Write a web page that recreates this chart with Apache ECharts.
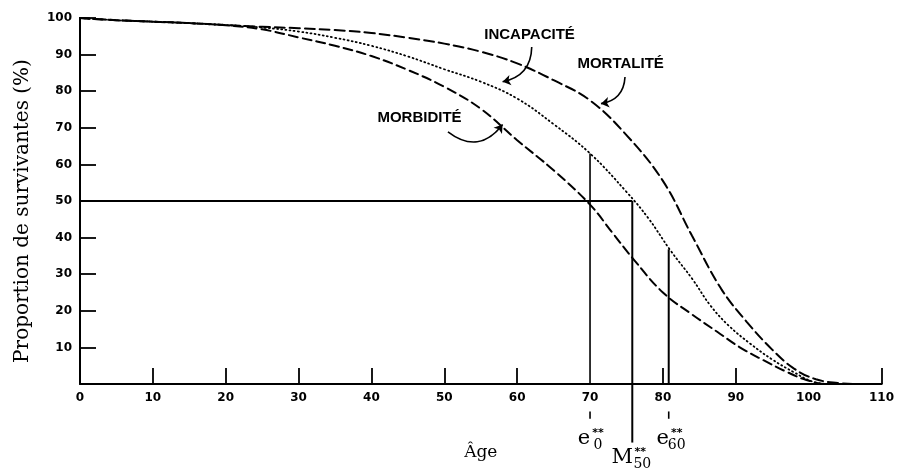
<!DOCTYPE html>
<html>
<head>
<meta charset="utf-8">
<script src="https://cdn.jsdelivr.net/npm/echarts@6/dist/echarts.min.js"></script>
<style>
  html, body { margin: 0; padding: 0; background: #fff; }
  #chart { width: 897px; height: 471px; }
</style>
</head>
<body>
<div id="chart"></div>
<script>
// survival curves (age in years, % still surviving)
var mortAges = [0, 5, 10, 15, 20, 25, 30, 35, 40, 45, 50, 55, 60, 65, 70, 75, 80, 84, 88, 91.5, 95, 98, 101, 104, 107, 110];
var mortValues = [100, 99.4, 99, 98.6, 98.1, 97.6, 97.2, 96.7, 95.9, 94.6, 93, 90.8, 87.6, 83, 77.5, 68, 55.5, 40.5, 26, 17, 9.4, 4.2, 1.3, 0.3, 0, 0];

var incapAges = [0, 5, 10, 15, 20, 25, 30, 35, 40, 45, 50, 55, 60, 65, 70, 75, 78, 81, 84, 86.5, 89, 92, 95, 98, 100.5, 103, 110];
var incapValues = [100, 99.4, 99, 98.6, 98.1, 97.4, 96.3, 94.6, 92.4, 89.5, 86, 82.6, 78, 71, 63, 52.5, 45.3, 36.6, 28.8, 21.5, 16, 11, 6.7, 3.2, 0.7, 0, 0];

var morbAges = [0, 5, 10, 15, 20, 25, 30, 35, 40, 45, 50, 55, 60, 65, 70, 73, 76, 80, 84, 87.5, 90.5, 93.7, 97, 99.7, 102.5, 110];
var morbValues = [100, 99.4, 99, 98.6, 98, 96.9, 94.7, 92.4, 89.6, 85.8, 81.2, 75.2, 66.6, 58.4, 49, 41.5, 34, 25, 19, 14.2, 10.1, 6.6, 3.3, 1.1, 0, 0];

// curve names and where their labels / pointer arrows sit (age, %)
var curveLabels = ['MORTALITÉ', 'INCAPACITÉ', 'MORBIDITÉ'];
var labelAt = [[74.2, 87.4], [61.7, 95.3], [46.6, 72.7]];
var arrowFrom = [[74.8, 83.9], [62, 92.1], [50.5, 68.9]];
var arrowTo = [[71.5, 76.6], [58, 82.6], [58, 70.9]];
var arrowBend = [0.4, 0.4, -0.5];

// e0**, M50**, e60** reference lines
var refAges = [70, 75.8, 80.8];
var refTops = [63, 50, 36.8];
var refBottoms = [0, -16, 0];
var refLetters = ['e', 'M', 'e'];
var refSubs = ['0', '50', '60'];
var refLabelY = [-15, -20.2, -15];
var halfLine = 50; // horizontal line at 50 %

var xTicks = [10, 20, 30, 40, 50, 60, 80, 90, 110];

var chart = echarts.init(document.getElementById('chart'));

function pairs(xs, ys) {
  return xs.map(function (x, i) { return [x, ys[i]]; });
}

function curve(name, ages, values, dash, width) {
  return {
    name: name, type: 'line', data: pairs(ages, values),
    smooth: 0.4, symbol: 'none', clip: false,
    lineStyle: { color: '#000', width: width, type: dash, cap: 'round' },
    z: 3
  };
}

var series = [
  curve('Mortalité', mortAges, mortValues, [10, 5], 2),
  curve('Incapacité', incapAges, incapValues, [1, 3.2], 1.8),
  curve('Morbidité', morbAges, morbValues, [9, 5], 2)
];

// curve names
series.push({
  type: 'scatter', symbolSize: 0, silent: true, clip: false,
  itemStyle: { color: '#000', opacity: 1 },
  data: labelAt.map(function (p, i) {
    return { value: p, label: { formatter: curveLabels[i] } };
  }),
  label: {
    show: true, position: 'inside', color: '#000', opacity: 1,
    fontFamily: 'Liberation Sans', fontSize: 15, fontWeight: 'bold'
  }
});

// curved pointer arrows
series.push({
  type: 'lines', coordinateSystem: 'cartesian2d', silent: true, clip: false,
  symbol: ['none', 'arrow'], symbolSize: 8,
  lineStyle: { color: '#000', width: 1.6, opacity: 1 },
  data: arrowFrom.map(function (f, i) {
    return { coords: [f, arrowTo[i]], lineStyle: { curveness: arrowBend[i] } };
  }),
  z: 5
});

// horizontal line at 50 % up to M50
series.push({
  type: 'line', data: [[0, halfLine], [refAges[1], halfLine]], symbol: 'none', clip: false,
  lineStyle: { color: '#000', width: 2 }, z: 4
});

refAges.forEach(function (a, i) {
  series.push({
    type: 'line', data: [[a, refTops[i]], [a, refBottoms[i]]], symbol: 'none', clip: false,
    lineStyle: { color: '#000', width: i === 0 ? 1.6 : 2 }, z: 4
  });
  if (refBottoms[i] === 0) {
    // little tick under the axis label
    series.push({
      type: 'line', data: [[a, -7.5], [a, -9.5]], symbol: 'none', clip: false,
      lineStyle: { color: '#000', width: 1.6 }, z: 4
    });
  }
});

var option = {
  backgroundColor: '#fff',
  animation: false,
  grid: { left: 80, right: 15, top: 18, bottom: 87 },
  xAxis: {
    type: 'value', min: 0, max: 110, interval: 10,
    name: 'Âge', nameLocation: 'middle', nameGap: 60,
    nameTextStyle: { fontFamily: 'DejaVu Serif', fontSize: 17, color: '#000' },
    axisLine: { lineStyle: { color: '#000', width: 2 } },
    axisTick: { inside: true, length: 16, customValues: xTicks, lineStyle: { color: '#000', width: 1.8 } },
    axisLabel: { color: '#000', fontFamily: 'DejaVu Sans', fontSize: 12, fontWeight: 'bold', margin: 8 },
    splitLine: { show: false }
  },
  yAxis: {
    type: 'value', min: 0, max: 100, interval: 10,
    name: 'Proportion de survivantes (%)', nameLocation: 'middle', nameGap: 47,
    nameTextStyle: { fontFamily: 'DejaVu Serif', fontSize: 20, color: '#000', padding: [0, 20, 0, 0] },
    axisLine: { show: true, lineStyle: { color: '#000', width: 2 } },
    axisTick: { show: true, inside: true, length: 16, lineStyle: { color: '#000', width: 1.8 } },
    axisLabel: {
      color: '#000', fontFamily: 'DejaVu Sans', fontSize: 12, fontWeight: 'bold', margin: 8,
      formatter: function (v) { return v === 0 ? '' : v; }
    },
    splitLine: { show: false }
  },
  series: series
};
chart.setOption(option);

// e0**, M50**, e60** labels sit below the axis; place them as graphic text
// at the positions converted from data coordinates
var graphics = [];
refAges.forEach(function (a, i) {
  var p = chart.convertToPixel({ gridIndex: 0 }, [a, refLabelY[i]]);
  var dx = i === 1 ? -10 : -6;
  graphics.push({
    type: 'text', x: p[0] + dx, y: p[1], silent: true,
    style: { text: refLetters[i], font: '21px "DejaVu Serif"', fill: '#000', align: 'center', verticalAlign: 'middle' }
  });
  graphics.push({
    type: 'text', x: p[0] + 8, y: p[1] - 6, silent: true,
    style: { text: '**', font: 'bold 11px "DejaVu Sans"', fill: '#000', align: 'center', verticalAlign: 'middle' }
  });
  graphics.push({
    type: 'text', x: p[0] + (i === 1 ? 10 : 8), y: p[1] + 6, silent: true,
    style: { text: refSubs[i], font: '14px "DejaVu Serif"', fill: '#000', align: 'center', verticalAlign: 'middle' }
  });
});
chart.setOption({ graphic: graphics });
</script>
</body>
</html>
